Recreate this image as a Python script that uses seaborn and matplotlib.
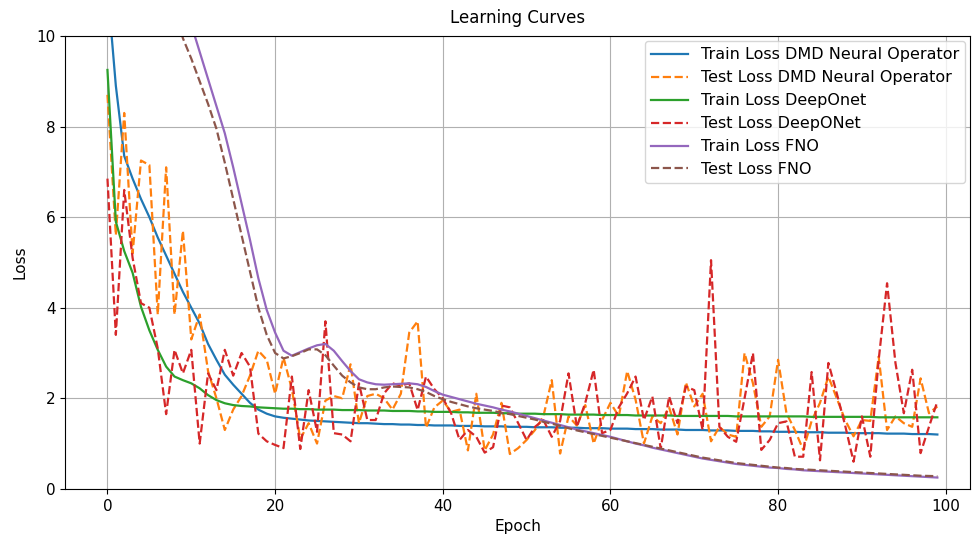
import numpy as np
import pandas as pd
import matplotlib
matplotlib.use("Agg")
import matplotlib.pyplot as plt
import seaborn as sns

# ── data ──────────────────────────────────────────────────────────────────────
epochs = list(range(100))

train_dmd = [
    11.1, 8.9, 7.35, 6.85, 6.4, 6.0, 5.55, 5.15, 4.75, 4.35,
    4.0, 3.65, 3.2, 2.85, 2.52, 2.3, 2.1, 1.9, 1.75, 1.66,
    1.6, 1.57, 1.55, 1.53, 1.51, 1.5, 1.49, 1.48, 1.47, 1.46,
    1.45, 1.45, 1.44, 1.43, 1.43, 1.42, 1.42, 1.41, 1.41, 1.4,
    1.4, 1.4, 1.39, 1.39, 1.39, 1.38, 1.38, 1.38, 1.37, 1.37,
    1.37, 1.36, 1.36, 1.36, 1.35, 1.35, 1.35, 1.34, 1.34, 1.34,
    1.33, 1.33, 1.33, 1.32, 1.32, 1.32, 1.31, 1.31, 1.31, 1.3,
    1.3, 1.3, 1.29, 1.29, 1.29, 1.28, 1.28, 1.28, 1.27, 1.27,
    1.26, 1.26, 1.26, 1.25, 1.25, 1.25, 1.24, 1.24, 1.24, 1.23,
    1.23, 1.23, 1.23, 1.22, 1.22, 1.22, 1.21, 1.21, 1.21, 1.2,
]

test_dmd = [
    8.7, 5.6, 8.3, 5.2, 7.25, 7.15, 3.85, 7.1, 3.85, 5.7,
    3.3, 3.85, 2.6, 2.0, 1.3, 1.75, 2.05, 2.5, 3.05, 2.85,
    2.1, 2.9, 2.2, 1.1, 1.45, 1.0, 1.95, 2.05, 2.0, 2.75,
    1.45, 2.05, 2.1, 2.0, 1.75, 2.1, 3.45, 3.7, 1.35, 1.8,
    1.95, 1.7, 1.75, 0.85, 2.1, 0.85, 1.2, 1.9, 0.77, 0.9,
    1.08, 1.3, 1.6, 2.4, 0.78, 1.6, 1.4, 1.85, 1.0, 1.52,
    1.9, 1.6, 2.6, 1.97, 1.0, 1.6, 1.45, 1.8, 1.2, 2.35,
    1.82, 2.1, 1.05, 1.37, 1.2, 1.15, 3.0, 2.33, 1.37, 1.6,
    2.85, 1.67, 1.3, 0.86, 1.5, 1.9, 2.48, 2.0, 1.52, 1.16,
    1.52, 1.5, 2.92, 1.3, 1.6, 1.45, 1.37, 2.44, 1.67, 1.82,
]

train_deeponet = [
    9.25, 5.9, 5.25, 4.77, 4.02, 3.5, 3.07, 2.7, 2.48, 2.4,
    2.33, 2.22, 2.07, 1.96, 1.89, 1.85, 1.83, 1.82, 1.8, 1.79,
    1.78, 1.77, 1.77, 1.76, 1.76, 1.75, 1.75, 1.75, 1.74, 1.74,
    1.74, 1.73, 1.73, 1.73, 1.72, 1.72, 1.72, 1.71, 1.71, 1.7,
    1.7, 1.7, 1.69, 1.69, 1.68, 1.68, 1.68, 1.67, 1.67, 1.66,
    1.66, 1.66, 1.65, 1.65, 1.65, 1.64, 1.64, 1.64, 1.64, 1.63,
    1.63, 1.63, 1.63, 1.62, 1.62, 1.62, 1.62, 1.62, 1.61, 1.61,
    1.61, 1.61, 1.61, 1.61, 1.61, 1.6, 1.6, 1.6, 1.6, 1.6,
    1.6, 1.6, 1.6, 1.6, 1.59, 1.59, 1.59, 1.59, 1.59, 1.59,
    1.59, 1.59, 1.58, 1.58, 1.58, 1.58, 1.58, 1.58, 1.58, 1.58,
]

test_deeponet = [
    6.85, 3.4, 6.6, 5.1, 4.1, 4.0, 3.1, 1.65, 3.07, 2.55,
    3.07, 1.0, 2.55, 2.18, 3.07, 2.5, 3.0, 2.7, 1.22, 1.05,
    0.97, 0.9, 2.48, 0.88, 2.18, 1.26, 3.7, 1.23, 1.2, 1.05,
    2.33, 1.52, 1.52, 2.11, 2.33, 2.28, 2.33, 1.74, 2.48, 2.2,
    2.0, 1.67, 1.08, 1.3, 1.15, 0.8, 0.92, 1.84, 1.8, 1.45,
    1.08, 1.37, 1.52, 1.15, 1.5, 2.55, 1.37, 1.9, 2.63, 1.23,
    1.3, 1.8, 2.11, 2.48, 1.52, 2.04, 0.89, 2.04, 1.45, 2.26,
    2.18, 1.3, 5.05, 1.37, 1.15, 1.04, 2.0, 3.0, 0.86, 1.08,
    1.45, 1.49, 0.71, 0.71, 2.58, 0.63, 2.78, 2.11, 1.4, 0.6,
    1.6, 0.71, 2.85, 4.54, 2.78, 1.67, 2.63, 0.79, 1.37, 1.93,
]

train_fno = [
    16.5, 15.8, 15.1, 14.4, 13.7, 13.0, 12.4, 11.8, 11.3, 10.85,
    10.25, 9.65, 9.05, 8.45, 7.85, 7.1, 6.3, 5.5, 4.65, 3.95,
    3.45, 3.05, 2.94, 3.02, 3.1, 3.17, 3.2, 3.05, 2.82, 2.6,
    2.42, 2.35, 2.31, 2.3, 2.31, 2.32, 2.33, 2.31, 2.25, 2.16,
    2.08, 2.03, 1.98, 1.93, 1.88, 1.84, 1.8, 1.75, 1.71, 1.66,
    1.61, 1.56, 1.51, 1.46, 1.41, 1.36, 1.31, 1.27, 1.23, 1.19,
    1.15, 1.1, 1.05, 1.0, 0.96, 0.91, 0.87, 0.83, 0.79, 0.75,
    0.71, 0.67, 0.64, 0.61, 0.58, 0.55, 0.53, 0.51, 0.49, 0.47,
    0.46, 0.44, 0.43, 0.41, 0.4, 0.39, 0.38, 0.37, 0.36, 0.35,
    0.34, 0.33, 0.32, 0.31, 0.3, 0.29, 0.28, 0.27, 0.26, 0.25,
]

test_fno = [
    15.2, 14.6, 14.0, 13.4, 12.8, 12.2, 11.7, 11.2, 10.6, 9.95,
    9.5, 9.0, 8.5, 7.95, 7.2, 6.4, 5.6, 4.8, 4.0, 3.4,
    3.0, 2.88, 2.93, 3.0, 3.08, 3.08, 2.95, 2.72, 2.5, 2.35,
    2.24, 2.2, 2.2, 2.24, 2.26, 2.25, 2.24, 2.2, 2.14, 2.05,
    1.98, 1.92, 1.87, 1.82, 1.78, 1.75, 1.72, 1.68, 1.65, 1.61,
    1.57, 1.53, 1.48, 1.44, 1.39, 1.34, 1.29, 1.25, 1.21, 1.17,
    1.13, 1.09, 1.05, 1.01, 0.97, 0.93, 0.89, 0.85, 0.81, 0.77,
    0.73, 0.69, 0.66, 0.63, 0.6, 0.57, 0.55, 0.53, 0.51, 0.49,
    0.47, 0.46, 0.44, 0.43, 0.42, 0.41, 0.4, 0.39, 0.38, 0.37,
    0.36, 0.35, 0.34, 0.33, 0.32, 0.31, 0.3, 0.29, 0.285, 0.28,
]

# ── series labels / styles ────────────────────────────────────────────────────
series = [
    ("Train Loss DMD Neural Operator", train_dmd,      "#1f77b4", "-"),
    ("Test Loss DMD Neural Operator",  test_dmd,       "#ff7f0e", "--"),
    ("Train Loss DeepOnet",            train_deeponet, "#2ca02c", "-"),
    ("Test Loss DeepONet",             test_deeponet,  "#d62728", "--"),
    ("Train Loss FNO",                 train_fno,      "#9467bd", "-"),
    ("Test Loss FNO",                  test_fno,       "#8c564b", "--"),
]

plt.rcParams["font.size"] = 11

# ── plot ──────────────────────────────────────────────────────────────────────
fig, ax = plt.subplots(figsize=(9.72, 5.45), dpi=100)

for name, vals, color, ls in series:
    df = pd.DataFrame({"Epoch": epochs, "Loss": vals})
    sns.lineplot(data=df, x="Epoch", y="Loss", ax=ax, color=color,
                 linestyle=ls, linewidth=1.6, label=name)

ax.set_ylim(0, 10)
ax.set_xlim(-5.05, 102.9)
ax.set_title("Learning Curves", fontsize=12, pad=9)
ax.set_xlabel("Epoch")
ax.set_ylabel("Loss", labelpad=6)
ax.grid(True)
ax.legend(loc="upper right", fontsize=11.5, borderaxespad=0.3,
          handlelength=2.3)

plt.subplots_adjust(left=0.067, right=0.998, top=0.934, bottom=0.103)
plt.savefig("out.png", dpi=100)
